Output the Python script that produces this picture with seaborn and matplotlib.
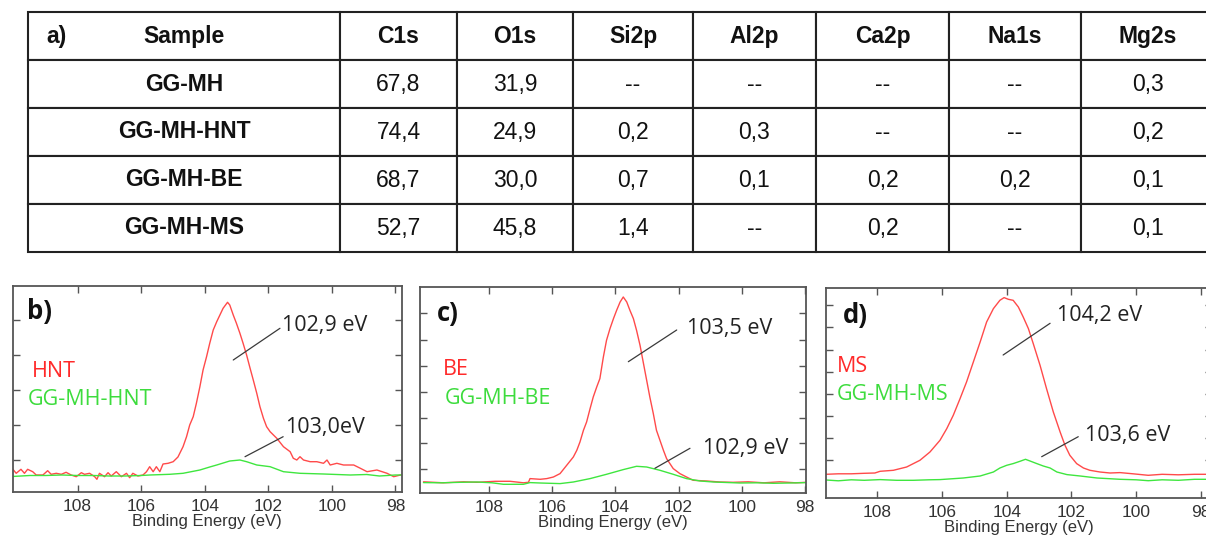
import matplotlib
matplotlib.use("Agg")
import matplotlib.pyplot as plt
import seaborn as sns
import pandas as pd

# ---- a) surface composition table (at. %) ----
samples = ["GG-MH", "GG-MH-HNT", "GG-MH-BE", "GG-MH-MS"]
elements = ["C1s", "O1s", "Si2p", "Al2p", "Ca2p", "Na1s", "Mg2s"]
c1s = [67.8, 74.4, 68.7, 52.7]
o1s = [31.9, 24.9, 30.0, 45.8]
si2p = [None, 0.2, 0.7, 1.4]
al2p = [None, 0.3, 0.1, None]
ca2p = [None, None, 0.2, 0.2]
na1s = [None, None, 0.2, None]
mg2s = [0.3, 0.2, 0.1, 0.1]

# ---- b) Si2p: HNT vs GG-MH-HNT ----
hnt_be = [110.06, 109.93, 109.78, 109.67, 109.57, 109.41, 109.30, 109.09, 108.94, 108.83,
          108.67, 108.51, 108.36, 108.20, 108.04, 107.88, 107.78, 107.62, 107.46, 107.39,
          107.31, 107.15, 107.04, 106.94, 106.78, 106.62, 106.46, 106.36, 106.26, 106.10,
          105.94, 105.83, 105.73, 105.62, 105.52, 105.41, 105.31, 105.15, 104.99, 104.84,
          104.68, 104.57, 104.47, 104.36, 104.26, 104.15, 104.05, 103.94, 103.84, 103.73,
          103.62, 103.52, 103.42, 103.28, 103.21, 103.10, 103.00, 102.89, 102.79, 102.68,
          102.57, 102.47, 102.36, 102.26, 102.15, 102.05, 101.94, 101.73, 101.52, 101.31,
          101.21, 101.10, 101.00, 100.89, 100.68, 100.47, 100.26, 100.15, 100.05, 99.84,
          99.63, 99.31, 99.10, 98.89, 98.58, 98.26, 98.05, 97.84]
hnt_int = [23.7, 18.7, 22.7, 18.7, 22.7, 20.3, 17.0, 17.0, 21.3, 17.7,
           18.7, 17.7, 19.7, 17.0, 15.3, 19.3, 17.7, 18.7, 15.3, 12.7,
           18.7, 15.3, 19.3, 16.0, 20.3, 15.3, 18.7, 14.3, 18.7, 16.0,
           17.0, 20.3, 25.3, 20.3, 25.3, 20.3, 28.0, 28.7, 30.3, 35.0,
           45.3, 55.3, 67.0, 75.3, 88.7, 105.3, 122.0, 135.3, 148.7, 162.0,
           170.3, 177.0, 183.7, 189.7, 187.0, 177.0, 168.7, 158.7, 148.7, 137.0,
           123.7, 112.0, 98.7, 85.3, 73.7, 65.3, 60.3, 53.7, 45.3, 40.3,
           33.7, 32.0, 35.3, 32.0, 30.3, 30.3, 28.7, 32.0, 27.0, 28.7,
           27.0, 27.0, 23.7, 20.3, 22.0, 18.7, 15.3, 17.0]
gg_hnt_be = [110.06, 109.5, 109.0, 108.5, 108.0, 107.5, 107.0, 106.5, 106.0, 105.73,
             105.10, 104.68, 104.15, 103.84, 103.62, 103.21, 102.89, 102.68, 102.36, 101.94,
             101.52, 101.00, 100.26, 99.42, 98.9, 98.5, 98.0, 97.8]
gg_hnt_int = [15.5, 16.5, 16.5, 17.0, 16.5, 16.5, 16.0, 16.0, 16.5, 17.0,
              17.7, 18.7, 22.0, 25.0, 27.0, 31.0, 32.0, 30.3, 27.0, 25.3,
              20.3, 18.7, 18.0, 17.0, 17.5, 16.0, 17.0, 17.0]

# ---- c) Si2p: BE vs GG-MH-BE ----
be_be = [110.07, 109.44, 108.8, 108.38, 107.8, 107.33, 106.91, 106.75, 106.70, 106.38,
         106.17, 105.96, 105.75, 105.54, 105.33, 105.22, 105.12, 105.01, 104.91, 104.80,
         104.70, 104.59, 104.49, 104.38, 104.28, 104.17, 104.06, 103.96, 103.85, 103.75,
         103.64, 103.54, 103.43, 103.33, 103.22, 103.12, 103.01, 102.91, 102.80, 102.70,
         102.59, 102.48, 102.38, 102.17, 101.96, 101.75, 101.54, 101.11, 100.69, 100.27,
         99.8, 99.3, 98.8, 98.3, 97.95]
be_int = [11.5, 10.5, 11.5, 11.0, 12.0, 12.0, 10.5, 11.0, 14.7, 14.0,
          14.7, 16.3, 19.7, 28.0, 36.3, 43.0, 51.3, 63.0, 71.3, 84.7,
          96.3, 106.3, 114.7, 136.3, 153.0, 164.7, 174.7, 183.0, 191.3, 196.3,
          191.3, 183.0, 174.7, 163.0, 148.0, 131.3, 113.0, 96.3, 79.7, 63.0,
          53.0, 43.0, 34.7, 24.7, 19.7, 16.3, 13.0, 12.3, 11.3, 11.0,
          11.5, 10.5, 11.5, 10.5, 11.0]
gg_be_be = [110.07, 109.5, 108.9, 108.38, 107.9, 107.54, 106.91, 106.70, 106.38, 105.75,
            105.33, 104.80, 104.28, 103.75, 103.33, 103.01, 102.59, 102.17, 101.75, 101.32,
            100.90, 100.06, 99.5, 99.0, 98.5, 97.95]
gg_be_int = [10.7, 10.5, 11.0, 11.3, 10.5, 9.0, 9.0, 10.7, 10.3, 9.7,
             11.3, 14.7, 19.0, 23.7, 27.0, 26.3, 23.0, 19.0, 14.7, 12.3,
             11.3, 10.3, 10.5, 10.0, 10.3, 10.7]

# ---- d) Si2p: MS vs GG-MH-MS ----
ms_be = [109.58, 109.2, 108.8, 108.4, 108.07, 107.91, 107.50, 107.09, 106.68, 106.37,
         106.06, 105.85, 105.65, 105.44, 105.24, 105.03, 104.82, 104.62, 104.41, 104.21,
         104.08, 103.95, 103.80, 103.64, 103.49, 103.33, 103.18, 102.97, 102.77, 102.56,
         102.35, 102.20, 102.05, 101.84, 101.63, 101.43, 101.12, 100.81, 100.50, 100.1,
         99.63, 99.2, 98.7, 98.2, 97.7]
ms_int = [24.0, 24.5, 24.5, 25.0, 25.3, 27.0, 28.0, 31.3, 38.0, 46.3,
          58.0, 69.7, 83.0, 99.7, 116.3, 136.3, 156.3, 176.3, 189.7, 198.0,
          200.7, 199.0, 198.0, 191.3, 181.3, 169.7, 154.7, 133.0, 109.7, 86.3,
          66.3, 53.0, 43.0, 34.7, 30.3, 28.0, 26.3, 25.3, 25.7, 24.5,
          23.0, 24.0, 23.5, 24.0, 24.0]
gg_ms_be = [109.58, 109.2, 108.8, 108.4, 107.91, 107.4, 106.88, 106.4, 106.06, 105.34,
            104.82, 104.41, 104.21, 104.00, 103.80, 103.59, 103.42, 103.28, 103.07, 102.87,
            102.66, 102.45, 102.14, 101.73, 101.21, 100.50, 100.0, 99.63, 99.2, 98.7,
            98.2, 97.7]
gg_ms_int = [18.3, 17.5, 18.5, 18.0, 18.7, 18.0, 18.0, 18.5, 18.7, 20.3,
             22.3, 26.3, 30.3, 33.0, 34.7, 37.0, 39.0, 37.3, 34.7, 32.3,
             30.3, 26.3, 23.7, 22.3, 20.3, 19.0, 18.5, 17.6, 18.5, 18.0,
             19.0, 19.0]

RED = "#ff4a4a"
GREEN = "#3fe63f"
LABEL_RED = "#ff2a2a"
LABEL_GREEN = "#3ddc3d"
EDGE = "#555555"
HUMANIST = ["Open Sans", "DejaVu Sans"]

sns.set_style("white")
plt.rcParams["font.family"] = ["Liberation Sans", "DejaVu Sans"]

fig = plt.figure(figsize=(12.06, 5.36), dpi=100)


def fmt(v):
    if v is None:
        return "--"
    return f"{v:.1f}".replace(".", ",")


# ---- table ----
table_df = pd.DataFrame({"Sample": samples, "C1s": c1s, "O1s": o1s, "Si2p": si2p,
                         "Al2p": al2p, "Ca2p": ca2p, "Na1s": na1s, "Mg2s": mg2s})
cell_text = [[row["Sample"]] + [fmt(row[e]) for e in elements]
             for row in table_df.astype(object).where(table_df.notna(), None).to_dict("records")]

ax_t = fig.add_axes([28 / 1206, 1 - 252 / 536, 1187 / 1206, 240 / 536])
ax_t.axis("off")
col_px = [312, 117, 116, 120, 123, 133, 132, 134]
tbl = ax_t.table(cellText=cell_text, colLabels=["Sample"] + elements,
                 colWidths=[w / sum(col_px) for w in col_px],
                 bbox=[0, 0, 1, 1], cellLoc="center")
tbl.auto_set_font_size(False)
for (r, c), cell in tbl.get_celld().items():
    cell.set_edgecolor("#222222")
    cell.set_linewidth(1.5)
    bold = r == 0 or c == 0
    cell.get_text().set_fontsize(16.5)
    cell.get_text().set_fontweight("bold" if bold else "normal")
    cell.get_text().set_color("#111111")
ax_t.text(18 / 1187, 1 - 0.5 / 5, "a)", transform=ax_t.transAxes, fontsize=16.5,
          fontweight="bold", ha="left", va="center", color="#111111")


def spectrum_panel(rect, ref, comp, tag, names, xlim, ylim, yticks, notes, label_pos):
    ax = fig.add_axes(rect)
    sns.lineplot(x=ref[0], y=ref[1], ax=ax, color=RED, lw=1.0, estimator=None, sort=False)
    sns.lineplot(x=comp[0], y=comp[1], ax=ax, color=GREEN, lw=1.0, estimator=None, sort=False)
    ax.set_xlim(*xlim)
    ax.set_ylim(*ylim)
    ax.set_xticks([108, 106, 104, 102, 100, 98])
    ax.set_yticks(yticks)
    ax.set_yticklabels([])
    ax.tick_params(direction="in", length=5, width=1, color=EDGE, top=True, right=True,
                   labelsize=12.5, labelcolor="#333333", pad=5)
    ax.tick_params(axis="y", left=True, right=True)
    ax.tick_params(axis="x", bottom=True, top=True)
    for s in ax.spines.values():
        s.set_color(EDGE)
        s.set_linewidth(1.3)
    ax.set_xlabel("Binding Energy (eV)", fontsize=12, color="#333333", labelpad=0)
    ax.set_ylabel("")

    (tx, ty), r_xy, g_xy = label_pos
    ax.text(tx, ty, tag, fontsize=18.5, fontweight="bold", family=HUMANIST,
            ha="left", va="center", color="#111111")
    ax.text(r_xy[0], r_xy[1], names[0], fontsize=15.5, family=HUMANIST,
            ha="left", va="center", color=LABEL_RED)
    ax.text(g_xy[0], g_xy[1], names[1], fontsize=15.5, family=HUMANIST,
            ha="left", va="center", color=LABEL_GREEN)
    for text, txy, p0, p1 in notes:
        ax.plot([p0[0], p1[0]], [p0[1], p1[1]], color="#3a3a3a", lw=0.9)
        ax.text(txy[0], txy[1], text, fontsize=15.5, family=HUMANIST,
                ha="left", va="center", color="#222222")
    return ax


spectrum_panel([12.7 / 1206, 1 - 492 / 536, 389.3 / 1206, 206 / 536],
               (hnt_be, hnt_int), (gg_hnt_be, gg_hnt_int), "b)", ("HNT", "GG-MH-HNT"),
               (110.04, 97.79), (0, 206), [32, 67, 102, 137, 172],
               [("102,9 eV", (101.57, 166), (103.10, 132), (101.63, 163.7)),
                ("103,0eV", (101.47, 64), (102.73, 35.3), (101.53, 55.3))],
               [(109.58, 180), (109.43, 120.5), (109.56, 92.5)])

spectrum_panel([420 / 1206, 1 - 493.3 / 536, 386 / 1206, 206.6 / 536],
               (be_be, be_int), (gg_be_be, gg_be_int), "c)", ("BE", "GG-MH-BE"),
               (110.18, 97.97), (0, 206.6), [24, 50, 75, 101, 127, 153, 180],
               [("103,5 eV", (101.74, 165.3), (103.59, 131.6), (102.06, 163.3)),
                ("102,9 eV", (101.23, 45.3), (102.75, 25), (101.64, 45))],
               [(109.64, 180.3), (109.45, 123.8), (109.39, 95.3)])

spectrum_panel([826 / 1206, 1 - 498.3 / 536, 386 / 1206, 210 / 536],
               (ms_be, ms_int), (gg_ms_be, gg_ms_int), "d)", ("MS", "GG-MH-MS"),
               (109.58, 97.66), (0, 210), [38, 60, 82, 104, 126, 148, 171, 193],
               [("104,2 eV", (102.46, 183.3), (104.11, 143.3), (102.66, 175)),
                ("103,6 eV", (101.58, 63.3), (102.92, 41.6), (101.79, 61.6))],
               [(109.05, 183.3), (109.24, 132.3), (109.24, 103.3)])

fig.savefig("out.png", dpi=100, facecolor="white")
